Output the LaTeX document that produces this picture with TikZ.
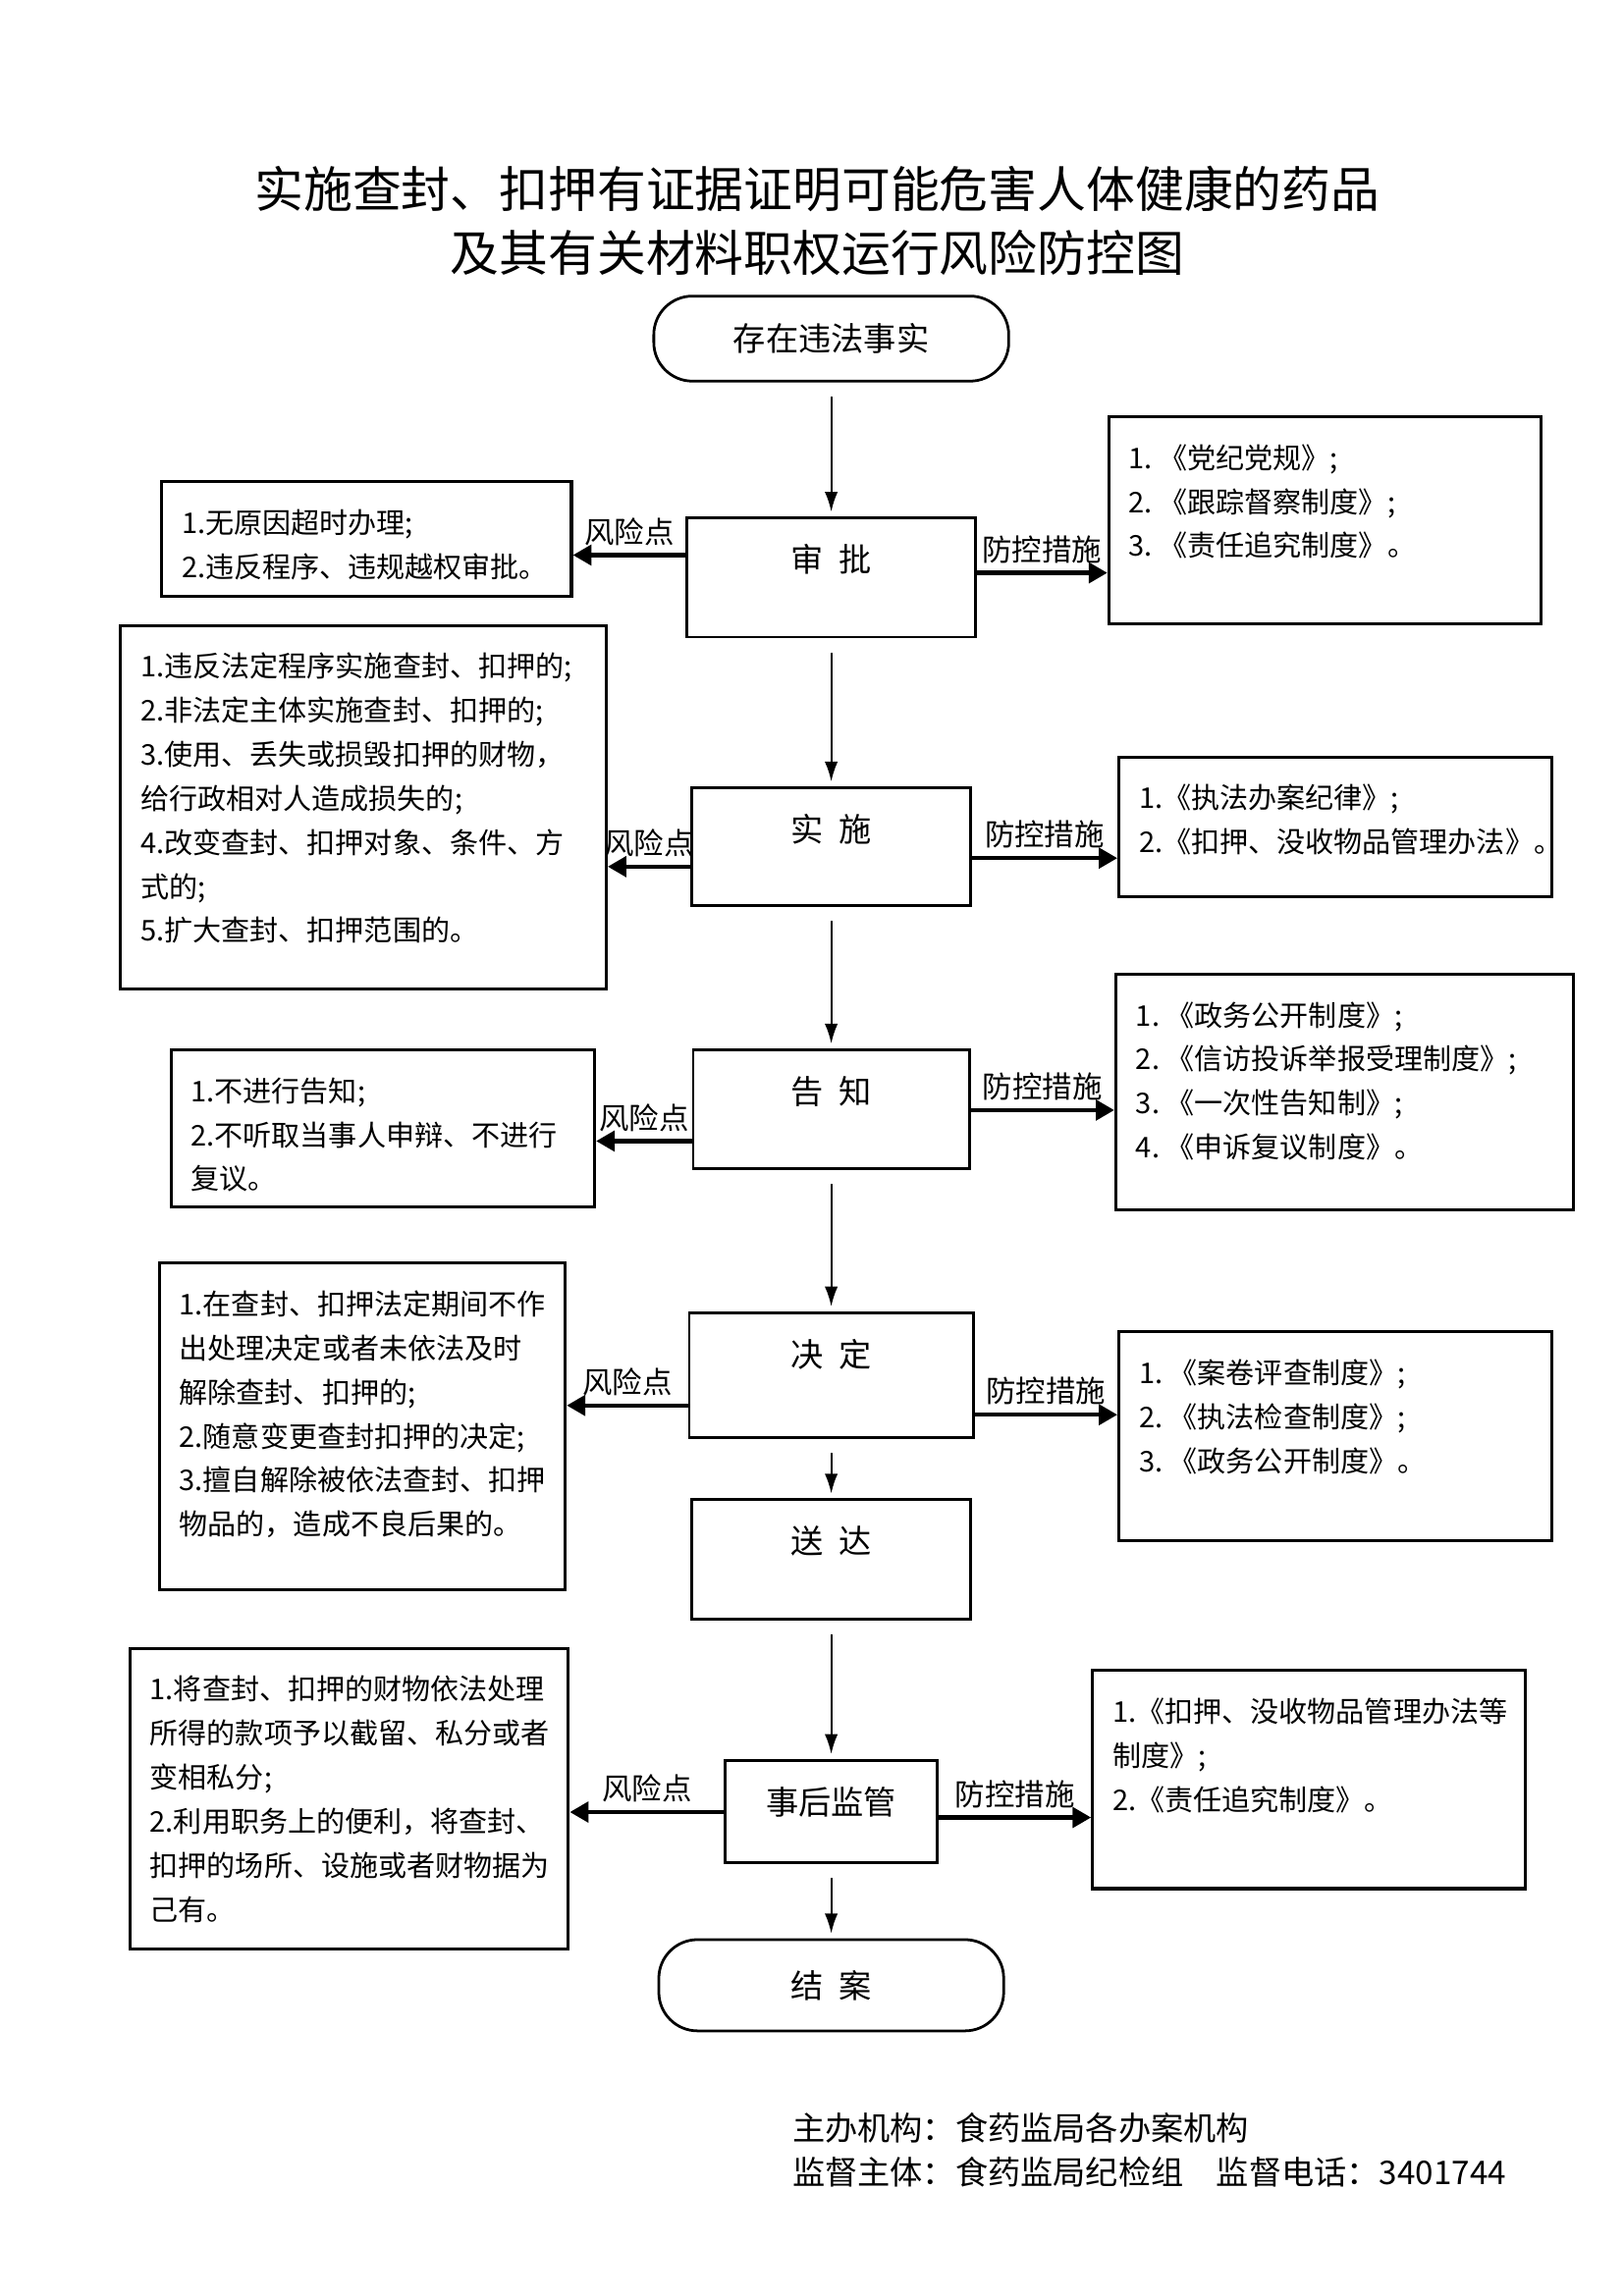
\documentclass[tikz,border=0pt]{standalone}
\usepackage{fontspec}
\setmainfont{Noto Sans CJK SC}
\usetikzlibrary{arrows.meta}

\tikzset{
  stepbox/.style={draw, line width=1pt, inner sep=0pt, font=\fontsize{12}{14}\selectfont},
  endbox/.style={draw, line width=1pt, rounded corners=5mm, minimum height=11mm, font=\fontsize{12}{14}\selectfont},
  riskbox/.style={draw, line width=1.1pt, inner xsep=2.6mm, inner ysep=0pt, font=\fontsize{10.5}{16.2}\selectfont},
  lbl/.style={inner sep=0.5pt, font=\fontsize{11}{13}\selectfont},
  flow/.style={line width=0.8pt, -{Latex[length=2.6mm,width=1.7mm]}, shorten <=1.8mm, shorten >=0.6mm},
  sidearrow/.style={line width=1.6pt, -{Triangle[length=2.4mm,width=2.6mm]}},
}
\newcommand{\steptext}[3]{\parbox[c][#2mm][t]{#1mm}{\centering\rule{0pt}{7mm}#3}}
\newcommand{\listtext}[3]{\parbox[c][#2mm][t]{\dimexpr#1mm-5.2mm\relax}{\raggedright\rule{0pt}{6.7mm}#3}}

\begin{document}
\begin{tikzpicture}[x=1mm,y=-1mm]
  \useasboundingbox (0,0) rectangle (210,297);
  %% title
  \node[align=center, font=\fontsize{18}{23.6}\selectfont] (title) at (105.7,28.55)
    {实施查封、扣押有证据证明可能危害人体健康的药品\\及其有关材料职权运行风险防控图};
  %% main column
  \node[endbox, minimum width=45.9mm] (t0) at (107.5,43.8) {存在违法事实};
  \node[stepbox] (s1) at (107.5,74.7) {\steptext{37.3}{15.4}{审\hspace{.5em}批}};
  \node[stepbox] (s2) at (107.5,109.5) {\steptext{36.0}{15.2}{实\hspace{.5em}施}};
  \node[stepbox] (s3) at (107.5,143.5) {\steptext{35.7}{15.4}{告\hspace{.5em}知}};
  \node[stepbox] (s4) at (107.5,177.9) {\steptext{36.7}{16.2}{决\hspace{.5em}定}};
  \node[stepbox] (s5) at (107.5,201.7) {\steptext{36.0}{15.4}{送\hspace{.5em}达}};
  \node[stepbox] (s6) at (107.5,234.3) {\steptext{27.4}{13.2}{事后监管}};
  \node[endbox, minimum width=44.6mm, minimum height=11.8mm] (t1) at (107.5,256.8) {结\hspace{.5em}案};
  %% risk points
  \node[riskbox] (r1) at (47.4,69.7) {\listtext{53.0}{14.8}{1.无原因超时办理;\\
    2.违反程序、违规越权审批。}};
  \node[riskbox] (r2) at (47.0,104.4) {\listtext{62.8}{47.0}{1.违反法定程序实施查封、扣押的;\\
    2.非法定主体实施查封、扣押的;\\
    3.使用、丢失或损毁扣押的财物，\\
    给行政相对人造成损失的;\\
    4.改变查封、扣押对象、条件、方\\
    式的;\\
    5.扩大查封、扣押范围的。}};
  \node[riskbox] (r3) at (49.5,145.95) {\listtext{54.8}{20.3}{1.不进行告知;\\
    2.不听取当事人申辩、不进行\\
    复议。}};
  \node[riskbox] (r4) at (46.85,184.5) {\listtext{52.5}{42.2}{1.在查封、扣押法定期间不作\\
    出处理决定或者未依法及时\\
    解除查封、扣押的;\\
    2.随意变更查封扣押的决定;\\
    3.擅自解除被依法查封、扣押\\
    物品的，造成不良后果的。}};
  \node[riskbox] (r5) at (45.15,232.65) {\listtext{56.7}{38.9}{1.将查封、扣押的财物依法处理\\
    所得的款项予以截留、私分或者\\
    变相私分;\\
    2.利用职务上的便利，将查封、\\
    扣押的场所、设施或者财物据为\\
    己有。}};
  %% control measures
  \node[riskbox] (m1) at (171.35,67.3) {\listtext{55.9}{26.8}{1.~《党纪党规》;\\
    2.~《跟踪督察制度》;\\
    3.~《责任追究制度》。}};
  \node[riskbox] (m2) at (172.7,106.95) {\listtext{56.0}{18.1}{1.《执法办案纪律》;\\
    2.《扣押、没收物品管理办法》。}};
  \node[riskbox] (m3) at (173.9,141.25) {\listtext{59.2}{30.5}{1.~《政务公开制度》;\\
    2.~《信访投诉举报受理制度》;\\
    3.~《一次性告知制》;\\
    4.~《申诉复议制度》。}};
  \node[riskbox] (m4) at (172.7,185.8) {\listtext{56.0}{27.0}{1.~《案卷评查制度》;\\
    2.~《执法检查制度》;\\
    3.~《政务公开制度》。}};
  \node[riskbox] (m5) at (169.3,230.2) {\listtext{56.0}{28.2}{1.《扣押、没收物品管理办法等\\
    制度》;\\
    2.《责任追究制度》。}};
  %% flow
  \foreach \a/\b in {t0/s1,s1/s2,s2/s3,s3/s4,s4/s5,s5/s6,s6/t1} \draw[flow] (\a) -- (\b);
  \foreach \s/\r/\y in {s1/r1/71.8,s2/r2/112.1,s3/r3/147.6,s4/r4/181.8,s6/r5/234.4}
    \draw[sidearrow] (\s.west |- 0,\y) -- node[lbl,above=0.8mm] (risk-\s) {风险点} (\r.east |- 0,\y);
  \foreach \s/\m/\y in {s1/m1/74.1,s2/m2/111.0,s3/m3/143.6,s4/m4/183.0,s6/m5/235.1}
    \draw[sidearrow] (\s.east |- 0,\y) -- node[lbl,above=0.8mm] (ctrl-\s) {防控措施} (\m.west |- 0,\y);
  %% footer
  \node[anchor=west, align=left, inner sep=0pt, font=\fontsize{12}{16.2}\selectfont] (org) at (102.4,278.15)
    {主办机构：食药监局各办案机构\\监督主体：食药监局纪检组　监督电话：3401744};
\end{tikzpicture}
\end{document}
